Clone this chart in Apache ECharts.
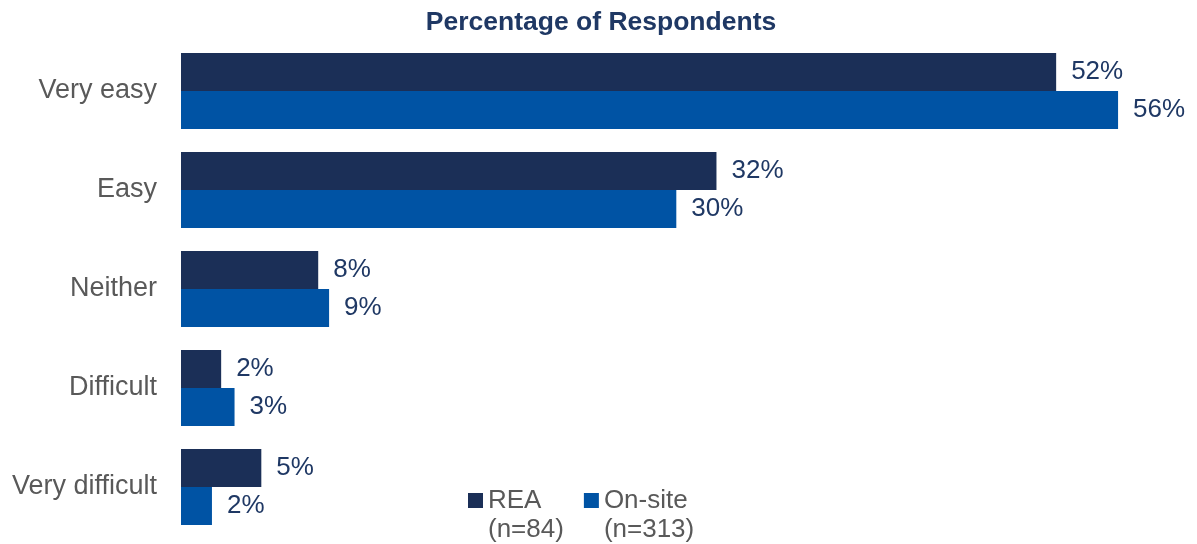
<!DOCTYPE html>
<html>
<head>
<meta charset="utf-8">
<script src="https://cdn.jsdelivr.net/npm/echarts@6/dist/echarts.min.js"></script>
<style>html,body{margin:0;padding:0;background:#fff}#chart{width:1197px;height:544px}</style>
</head>
<body>
<div id="chart"></div>
<script>
const categories = ['Very easy', 'Easy', 'Neither', 'Difficult', 'Very difficult'];
const reaValues = [52.3, 32.0, 8.2, 2.4, 4.8];
const onsiteValues = [56.0, 29.6, 8.85, 3.2, 1.85];
const seriesNames = ['REA', 'On-site'];
const legendLabels = { 'REA': '\nREA\n(n=84)', 'On-site': '\nOn-site\n(n=313)' };

const font = '"Liberation Sans", Arial, sans-serif';
const chart = echarts.init(document.getElementById('chart'));
const labelCfg = {
  show: true,
  position: 'right',
  distance: 15,
  color: '#1F3864',
  fontSize: 26,
  fontFamily: font,
  formatter: p => Math.round(p.value) + '%'
};
chart.setOption({
  animation: false,
  title: {
    text: 'Percentage of Respondents',
    left: 596, top: 4, textAlign: 'center',
    textStyle: { color: '#1F3864', fontSize: 26.5, fontWeight: 'bold', fontFamily: font }
  },
  legend: {
    left: 463, top: 452,
    itemWidth: 15, itemHeight: 15, itemGap: 20,
    icon: 'rect',
    formatter: n => legendLabels[n],
    textStyle: { color: '#595959', fontSize: 26, fontFamily: font, lineHeight: 29 },
    data: seriesNames
  },
  grid: { left: 181, right: 12, top: 41.5, bottom: 7.5, containLabel: false },
  xAxis: { type: 'value', min: 0, max: 60, show: false },
  yAxis: {
    type: 'category', data: categories, inverse: true,
    axisLine: { show: false }, axisTick: { show: false },
    axisLabel: { color: '#595959', fontSize: 27, fontFamily: font, margin: 24 }
  },
  series: [
    { name: seriesNames[0], type: 'bar', data: reaValues, barWidth: 38, barGap: '0%',
      itemStyle: { color: '#1B2F57' }, label: labelCfg },
    { name: seriesNames[1], type: 'bar', data: onsiteValues, barWidth: 38, barGap: '0%',
      itemStyle: { color: '#0053A4' }, label: labelCfg }
  ]
});
</script>
</body>
</html>
